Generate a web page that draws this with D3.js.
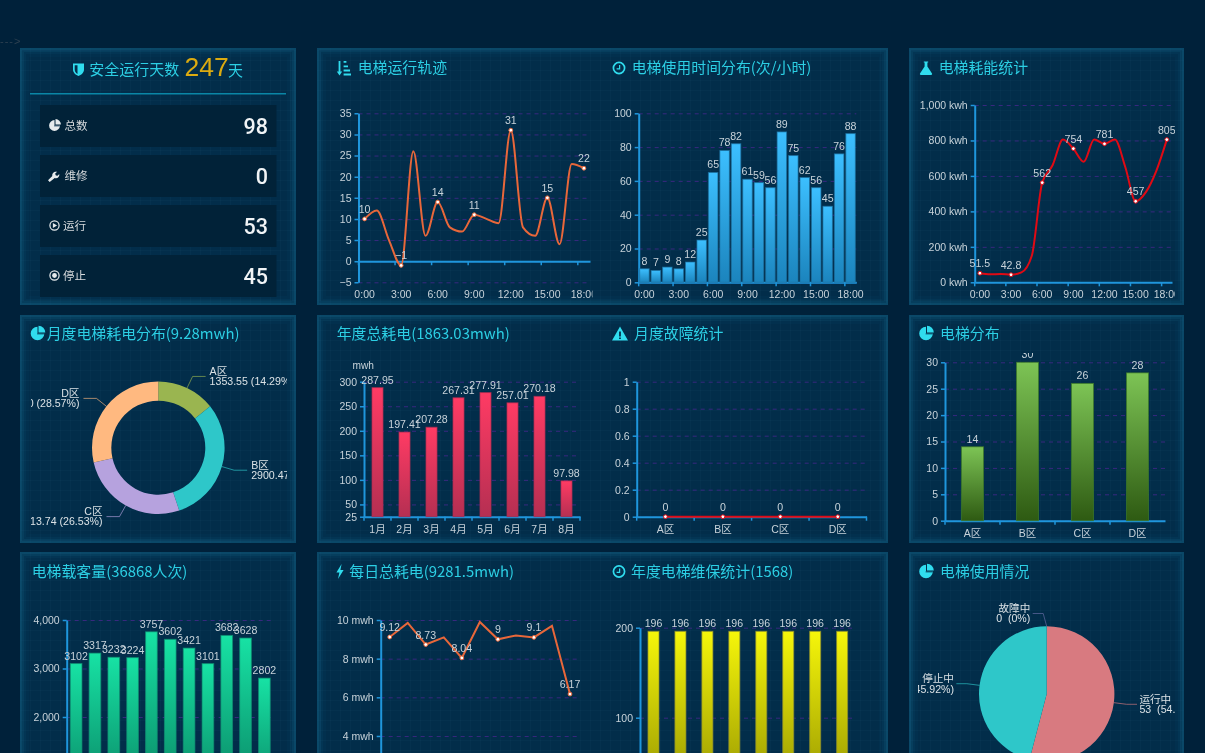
<!DOCTYPE html>
<html>
<head>
<meta charset="utf-8">
<title>电梯运行统计</title>
<script src="https://cdn.jsdelivr.net/npm/d3@7"></script>
<style>
    html, body { margin: 0; padding: 0; background: #00213a; overflow: hidden; }
    svg { display: block; font-family: "Liberation Sans", "Noto Sans CJK SC", sans-serif; filter: blur(0.4px); }
</style>
</head>
<body>
<svg id="svg" width="1205" height="753"></svg>
<script>
// data
var hours = ["0:00","1:00","2:00","3:00","4:00","5:00","6:00","7:00","8:00","9:00","10:00","11:00","12:00","13:00","14:00","15:00","16:00","17:00","18:00"];
var traceValues = [10,12,5,-1,26,6,14,8,7,11,10,9,31,8,6,15,4,23,22];
var usageValues = [8,7,9,8,12,25,65,78,82,61,59,56,89,75,62,56,45,76,88];
var energyValues = [51.5,45,47,42.8,56,150,562,660,805,754,680,805,781,805,650,457,510,630,805];
var areas = ["A区","B区","C区","D区"];
var areaPower = [1353.55,2900.47,2513.74,2707.10];
var months = ["1月","2月","3月","4月","5月","6月","7月","8月"];
var monthPower = [287.95,197.41,207.28,267.31,277.91,257.01,270.18,97.98];
var faultValues = [0,0,0,0];
var areaCounts = [14,30,26,28];
var passengerDays = ["1日","2日","3日","4日","5日","6日","7日","8日","9日","10日","11日"];
var passengerValues = [3102,3317,3232,3224,3757,3602,3421,3101,3682,3628,2802];
var dailyPower = [9.12,9.85,8.73,9.1,8.04,9.9,9,9.2,9.1,9.7,6.17];
var serviceValues = [196,196,196,196,196,196,196,196];
var stateNames = ["运行中","停止中","故障中"];
var stateValues = [53,45,0];
var summaryLabels = ["总数","维修","运行","停止"];
var summaryValues = [98,0,53,45];

var TITLE = "#2ccfe4", TEXT = "#c8d3da", AXIS = "#1f96dc", GRID = "#38287f";

var svg = d3.select("#svg");
var defs = svg.append("defs");

function gradient(id, top, bottom) {
    var g = defs.append("linearGradient").attr("id", id)
        .attr("x1", 0).attr("y1", 0).attr("x2", 0).attr("y2", 1);
    g.append("stop").attr("offset", "0%").attr("stop-color", top);
    g.append("stop").attr("offset", "100%").attr("stop-color", bottom);
}
gradient("blueBar", "#3cbfff", "#1b84bd");
gradient("redBar", "#ff3b64", "#b52f52");
gradient("greenBar", "#7dc455", "#2e5a12");
gradient("tealBar", "#17e2a4", "#087a5c");
gradient("yellowBar", "#f6f60a", "#8c8c00");

var grid = defs.append("pattern").attr("id", "cells")
    .attr("width", 10).attr("height", 10).attr("patternUnits", "userSpaceOnUse");
grid.append("path").attr("d", "M10 0H0V10").attr("fill", "none")
    .attr("stroke", "#5fb4d2").attr("stroke-opacity", 0.05);

var clipCount = 0;
function clip(x, y, w, h) {
    var id = "clip" + (clipCount++);
    defs.append("clipPath").attr("id", id).append("rect")
        .attr("x", x).attr("y", y).attr("width", w).attr("height", h);
    return "url(#" + id + ")";
}

svg.append("rect").attr("width", 1205).attr("height", 753).attr("fill", "#00213a");
svg.append("text").attr("x", 0).attr("y", 44.5).attr("font-size", 11).attr("letter-spacing", 1)
    .attr("fill", "#2d4050").text("--->");

function panel(x, y, w, h) {
    svg.append("rect").attr("x", x).attr("y", y).attr("width", w).attr("height", h).attr("fill", "#022d4a");
    svg.append("rect").attr("x", x).attr("y", y).attr("width", w).attr("height", h).attr("fill", "url(#cells)");
    [[2, 0.2], [4, 0.14], [6, 0.09], [9, 0.05]].forEach(function(s) {
        svg.append("rect").attr("x", x + s[0] / 2).attr("y", y + s[0] / 2)
            .attr("width", w - s[0]).attr("height", h - s[0])
            .attr("fill", "none").attr("stroke", "#1a7396")
            .attr("stroke-width", s[0]).attr("stroke-opacity", s[1]);
    });
}

function title(text, x, y) {
    svg.append("text").attr("x", x).attr("y", y).attr("dy", "0.36em")
        .attr("font-family", '"Noto Sans CJK SC", sans-serif')
        .attr("font-size", 14.9).attr("fill", TITLE).text(text);
}

// small icons, drawn around a centre point
function iconPie(cx, cy, color, r) {
    var g = svg.append("g").attr("transform", "translate(" + cx + "," + cy + ")").attr("fill", color);
    g.append("path").attr("d", d3.arc()({innerRadius: 0, outerRadius: r, startAngle: Math.PI * 0.5, endAngle: Math.PI * 2}));
    g.append("path").attr("transform", "translate(1,-1)")
        .attr("d", d3.arc()({innerRadius: 0, outerRadius: r, startAngle: 0, endAngle: Math.PI * 0.5}));
    g.append("rect").attr("x", -0.4).attr("y", 0).attr("width", r).attr("height", 0.8).attr("fill", "#022d4a");
}
function iconClock(cx, cy) {
    var g = svg.append("g").attr("transform", "translate(" + cx + "," + cy + ")");
    g.append("circle").attr("r", 5.6).attr("fill", "none").attr("stroke", "#30dcee").attr("stroke-width", 1.7);
    g.append("path").attr("d", "M0.6 -3V0.8H-2.4").attr("fill", "none").attr("stroke", "#30dcee").attr("stroke-width", 1.2);
}
function iconPath(d, cx, cy, color) {
    svg.append("path").attr("transform", "translate(" + cx + "," + cy + ")").attr("d", d).attr("fill", color || "#30dcee");
}

panel(20, 48, 276, 257);
panel(317, 48, 571, 257);
panel(909, 48, 275, 257);
panel(20, 315, 276, 228);
panel(317, 315, 571, 228);
panel(909, 315, 275, 228);
panel(20, 552, 276, 210);
panel(317, 552, 571, 210);
panel(909, 552, 275, 210);

// summary block
iconPath("M-5.5 -6H5.5V0C5.5 3.5 2.5 5.5 0 6.5C-2.5 5.5 -5.5 3.5 -5.5 0Z M-1 -4.2H-3.8V0C-3.8 2.2 -2.4 3.6 -1 4.4Z", 78.5, 69.5, "#30dcee");
svg.append("text").attr("x", 89.3).attr("y", 70).attr("dy", "0.36em").attr("font-size", 15).attr("fill", TITLE).text("安全运行天数");
svg.append("text").attr("x", 184.5).attr("y", 76).attr("font-size", 26.5).attr("fill", "#dcab10").text("247");
svg.append("text").attr("x", 228).attr("y", 70.5).attr("dy", "0.36em").attr("font-size", 15).attr("fill", TITLE).text("天");
svg.append("line").attr("x1", 30).attr("x2", 286).attr("y1", 93.8).attr("y2", 93.8)
    .attr("stroke", "#0a86a6").attr("stroke-width", 1.6);

var rows = svg.append("g").selectAll("g").data(summaryLabels).enter().append("g")
    .attr("transform", function(d, i) { return "translate(40," + (105 + i * 50) + ")"; });
rows.append("rect").attr("width", 236.5).attr("height", 42).attr("fill", "#012238");
rows.append("text").attr("x", function(d, i) { return i < 2 ? 24.5 : 23; }).attr("y", 21).attr("dy", "0.36em")
    .attr("font-size", 11.6).attr("fill", "#d6dadd").text(function(d) { return d; });
rows.append("text").attr("x", 228).attr("y", 21).attr("dy", "0.36em").attr("text-anchor", "end")
    .attr("font-family", "Roboto").attr("font-weight", 500)
    .attr("font-size", 21.5).attr("fill", "#f1f4f6").text(function(d, i) { return summaryValues[i]; });
iconPie(54.5, 125.5, "#e6eaec", 5.4);
iconPath("M-5.5 4.2L-1.2 0C-1.8 -2.8 0.8 -5 3.6 -4.2L1.6 -2.2L2.4 -0.6L4 -0.2L5.8 -2C6.2 0.8 3.8 3 1.2 2L-3.8 6Z", 53.5, 176, "#e6eaec");
[[54.5, 225.5], [54.5, 275.5]].forEach(function(c, i) {
    svg.append("circle").attr("cx", c[0]).attr("cy", c[1]).attr("r", 4.6).attr("fill", "none")
        .attr("stroke", "#e6eaec").attr("stroke-width", 1.2);
    if (i == 0) iconPath("M-1.6 -2.4L2.6 0L-1.6 2.4Z", c[0], c[1], "#e6eaec");
    else svg.append("circle").attr("cx", c[0]).attr("cy", c[1]).attr("r", 2.4).attr("fill", "#e6eaec");
});

// titles
iconPath("M-1.4 -7H0.4V3.4H2.2L-0.5 7.4L-3.2 3.4H-1.4Z M3.6 -7H6.4V-5.2H3.6Z M3.6 -2.6H8V-0.8H3.6Z M3.6 1.6H10V3.4H3.6Z M3.6 5.6H11V7.4H3.6Z", 340, 68, "#30dcee");
title("电梯运行轨迹", 357.7, 68);
iconClock(619, 68);
title("电梯使用时间分布(次/小时)", 631.7, 68);
iconPath("M-2.2 -6.6H2.2V-5.4H1.4V-1.6L6 5.6C6.4 6.3 5.8 7 5.2 7H-5.2C-5.8 7 -6.4 6.3 -6 5.6L-1.4 -1.6V-5.4H-2.2Z", 926, 68, "#30dcee");
title("电梯耗能统计", 938.7, 68);

iconPie(37.5, 333.5, "#30dcee", 6.8);
title("月度电梯耗电分布(9.28mwh)", 46.7, 333.5);
title("年度总耗电(1863.03mwh)", 336.7, 333.5);
iconPath("M0 -7L8 7H-8Z M-0.9 -2V3H0.9V-2Z M-0.9 4V5.6H0.9V4Z", 620, 333.5, "#30dcee");
title("月度故障统计", 634, 333.5);
iconPie(926, 333.5, "#30dcee", 6.8);
title("电梯分布", 940, 333.5);

title("电梯载客量(36868人次)", 31.7, 571.5);
iconPath("M1.6 -7.4L-3.6 1H-0.6L-2 7.4L3.6 -1.4H0.4Z", 340, 571.5, "#30dcee");
title("每日总耗电(9281.5mwh)", 349.3, 571.5);
iconClock(619, 571.5);
title("年度电梯维保统计(1568)", 631, 571.5);
iconPie(926, 571.5, "#30dcee", 6.8);
title("电梯使用情况", 940, 571.5);

// wide minus sign on negative numbers
function signed(d) { return d < 0 ? "\u2212" + Math.abs(d) : String(d); }

// common frame: scales, grid lines and both axes of one chart
function frame(o) {
    var g = svg.append("g");
    if (o.clip) g.attr("clip-path", clip(o.clip[0], o.clip[1], o.clip[2], o.clip[3]));

    var x = d3.scaleBand().domain(o.categories).range([o.left, o.right])
        .paddingInner(o.padding || 0).paddingOuter((o.padding || 0) / 2);
    var y = d3.scaleLinear().domain(o.domain).range([o.bottom, o.top]);
    var step = x.step();

    g.append("g").selectAll("line").data(o.yTicks).enter().append("line")
        .attr("x1", o.left).attr("x2", o.right)
        .attr("y1", function(d) { return y(d) + 0.5; }).attr("y2", function(d) { return y(d) + 0.5; })
        .attr("stroke", GRID).attr("stroke-dasharray", "4,4");

    var yAxis = g.append("g").attr("transform", "translate(" + o.left + ",0)")
        .call(d3.axisLeft(y).tickValues(o.yTicks).tickFormat(o.yFormat || signed).tickSize(4).tickSizeOuter(0));
    styleAxis(yAxis);

    if (o.xTicks) {
        var xAxis = g.append("g").attr("transform", "translate(0," + y(o.axisAt || 0) + ")")
            .call(d3.axisBottom(x).tickValues(o.xTicks).tickSize(4).tickSizeOuter(0));
        styleAxis(xAxis);
        // ticks sit between the categories, the labels on them
        xAxis.selectAll(".tick line").attr("x1", -step / 2).attr("x2", -step / 2);
        xAxis.selectAll(".tick text").attr("y", (o.bottom - y(o.axisAt || 0)) + 8.5).attr("dy", "0.71em");
        if (o.endTick) {
            xAxis.append("line").attr("x1", o.right).attr("x2", o.right).attr("y2", 4).attr("stroke", AXIS).attr("stroke-width", 1.5);
        }
    }
    return {g: g, x: x, y: y};
}

function styleAxis(a) {
    a.selectAll(".domain").attr("stroke", AXIS).attr("stroke-width", 2);
    a.selectAll(".tick line").attr("stroke", AXIS).attr("stroke-width", 1.5);
    a.selectAll(".tick text").attr("fill", TEXT).attr("font-size", 10.5)
        .attr("font-family", '"Liberation Sans", "Noto Sans CJK SC", sans-serif');
}

function bars(f, o) {
    var rows = o.categories.map(function(c, i) { return {c: c, v: o.values[i]}; });
    f.g.append("g").selectAll("rect").data(rows).enter().append("rect")
        .attr("x", function(d) { return f.x(d.c); })
        .attr("y", function(d) { return f.y(d.v); })
        .attr("width", f.x.bandwidth())
        .attr("height", function(d) { return f.y(o.domain[0]) - f.y(d.v); })
        .attr("fill", "url(#" + o.fill + ")")
        .attr("stroke", o.edge).attr("stroke-opacity", 0.7);
    f.g.append("g").selectAll("text").data(rows).enter().append("text")
        .attr("x", function(d) { return f.x(d.c) + f.x.bandwidth() / 2; })
        .attr("y", function(d) { return f.y(d.v) - 4; })
        .attr("text-anchor", "middle").attr("font-size", 10.6).attr("fill", TEXT)
        .text(function(d) { return d.v; });
}

function line(f, o) {
    var rows = o.categories.map(function(c, i) { return {c: c, v: o.values[i], i: i}; });
    var px = function(d) { return f.x(d.c) + f.x.bandwidth() / 2; };
    var path = d3.line().x(px).y(function(d) { return f.y(d.v); }).curve(o.curve || d3.curveLinear);
    f.g.append("path").attr("d", path(rows)).attr("fill", "none")
        .attr("stroke", o.color).attr("stroke-width", 2);
    var marked = rows.filter(function(d) { return d.i % o.every == 0; });
    f.g.append("g").selectAll("circle").data(marked).enter().append("circle")
        .attr("cx", px).attr("cy", function(d) { return f.y(d.v); })
        .attr("r", 1.9).attr("fill", "#fff").attr("stroke", o.color);
    f.g.append("g").selectAll("text").data(marked).enter().append("text")
        .attr("x", px).attr("y", function(d) { return f.y(d.v) - 6; })
        .attr("text-anchor", "middle").attr("font-size", 10.6).attr("fill", TEXT)
        .text(function(d) { return signed(d.v); });
}

function everyThird(d, i) { return i % 3 == 0; }

// 电梯运行轨迹
var f1 = frame({categories: hours, domain: [-5, 35], left: 358.5, right: 590, top: 113.3, bottom: 282.3,
    yTicks: d3.range(-5, 36, 5), xTicks: hours.filter(everyThird), clip: [317, 90, 275.5, 213]});
line(f1, {categories: hours, values: traceValues, color: "#e8673a", every: 3, curve: d3.curveMonotoneX});

// 电梯使用时间分布
var f2 = frame({categories: hours, domain: [0, 100], left: 638.7, right: 856.3, top: 113.3, bottom: 282.3,
    yTicks: d3.range(0, 101, 20), xTicks: hours.filter(everyThird), padding: 0.17});
bars(f2, {categories: hours, values: usageValues, domain: [0, 100], fill: "blueBar", edge: "#1c6f9e"});

// 电梯耗能统计
var f3 = frame({categories: hours, domain: [0, 1000], left: 974.7, right: 1172, top: 105, bottom: 282.3,
    yTicks: d3.range(0, 1001, 200), xTicks: hours.filter(everyThird), clip: [909, 90, 266, 213],
    yFormat: function(d) { return d3.format(",")(d) + " kwh"; }});
line(f3, {categories: hours, values: energyValues, color: "#e00a14", every: 3, curve: d3.curveMonotoneX});

// 年度总耗电
var f4 = frame({categories: months, domain: [25, 300], left: 364, right: 580, top: 381.7, bottom: 516.7,
    yTicks: [25, 50, 100, 150, 200, 250, 300], xTicks: months, padding: 0.59, endTick: true, axisAt: 25});
bars(f4, {categories: months, values: monthPower, domain: [25, 300], fill: "redBar", edge: "#a82c50"});
svg.append("text").attr("x", 352.5).attr("y", 368.5).attr("font-size", 10.2).attr("fill", TEXT).text("mwh");

// 月度故障统计
var f5 = frame({categories: areas, domain: [0, 1], left: 636.7, right: 866.5, top: 381.7, bottom: 516.7,
    yTicks: [0, 0.2, 0.4, 0.6, 0.8, 1], xTicks: areas, endTick: true});
line(f5, {categories: areas, values: faultValues, color: "#e00a14", every: 1});

// 电梯分布
var f6 = frame({categories: areas, domain: [0, 30], left: 945, right: 1165, top: 362.3, bottom: 520.7,
    yTicks: d3.range(0, 31, 5), xTicks: areas, padding: 0.6, clip: [909, 353, 275, 190]});
bars(f6, {categories: areas, values: areaCounts, domain: [0, 30], fill: "greenBar", edge: "#3d7a26"});

// 电梯载客量
var f7 = frame({categories: passengerDays, domain: [0, 4000], left: 66.7, right: 273.8, top: 620, bottom: 814,
    yTicks: [2000, 3000, 4000], yFormat: d3.format(","), padding: 0.38});
bars(f7, {categories: passengerDays, values: passengerValues, domain: [0, 4000], fill: "tealBar", edge: "#0f8f72"});

// 每日总耗电
var f8 = frame({categories: passengerDays, domain: [0, 10], left: 380.7, right: 579, top: 620, bottom: 813.3,
    yTicks: [4, 6, 8, 10], yFormat: function(d) { return d + " mwh"; }});
line(f8, {categories: passengerDays, values: dailyPower, color: "#e8673a", every: 2});

// 年度电梯维保统计
var f9 = frame({categories: months, domain: [0, 200], left: 640, right: 855.6, top: 627.7, bottom: 807.7,
    yTicks: [100, 200], padding: 0.59});
bars(f9, {categories: months, values: serviceValues, domain: [0, 200], fill: "yellowBar", edge: "#8c8c30"});

// pies, the labels hang on a leader line outside the ring
function pie(o) {
    var g = svg.append("g").attr("clip-path", clip(o.clip[0], o.clip[1], o.clip[2], o.clip[3]));
    var c = g.append("g").attr("transform", "translate(" + o.cx + "," + o.cy + ")");
    var arcs = d3.pie().sort(null).value(function(d) { return d; })(o.values);
    var total = d3.sum(o.values);
    var arc = d3.arc().innerRadius(o.inner).outerRadius(o.outer);

    arcs.forEach(function(a, i) {
        c.append("path").attr("d", arc(a)).attr("fill", o.colors[i]);

        var mid = (a.startAngle + a.endAngle) / 2;
        var sin = Math.sin(mid), cos = -Math.cos(mid);
        var r2 = o.outer + 12.8;
        var shift = a.value == 0 ? -3.5 : 0;
        var ex = sin * r2 + shift, ey = cos * r2;
        var side = (sin > 0.01) ? 1 : -1;
        c.append("path")
            .attr("d", d3.line()([[sin * o.outer, cos * o.outer], [ex, ey], [ex + side * o.tail, ey]]))
            .attr("fill", "none").attr("stroke", o.colors[i]).attr("stroke-opacity", 0.65);

        var pct = +(a.value / total * 100).toFixed(2);
        var text = c.append("text").attr("text-anchor", side > 0 ? "start" : "end")
            .attr("font-size", 10.6).attr("fill", "#dbe2e6");
        var tx = ex + side * (o.tail + o.gapX);
        text.append("tspan").attr("x", tx).attr("y", ey - 1.4).text(o.names[i]);
        text.append("tspan").attr("x", tx).attr("y", ey + 8.8).text(o.format(a.value) + o.gap + "(" + pct + "%)");
    });
}

pie({names: areas, values: areaPower, colors: ["#9ab550", "#2ec7c9", "#b6a2de", "#ffb980"],
    cx: 158.3, cy: 447.7, inner: 47, outer: 66.3, tail: 13, gapX: 4, clip: [31, 360, 256, 170],
    format: function(d) { return d.toFixed(2); }, gap: " "});
pie({names: stateNames, values: stateValues, colors: ["#d87a80", "#2ec7c9", "#6a6ea8"],
    cx: 1046.7, cy: 694, inner: 0, outer: 67.7, tail: 10.5, gapX: 2.4, clip: [918, 590, 257, 163],
    format: function(d) { return d; }, gap: "\u00a0\u00a0"});
</script>
</body>
</html>
